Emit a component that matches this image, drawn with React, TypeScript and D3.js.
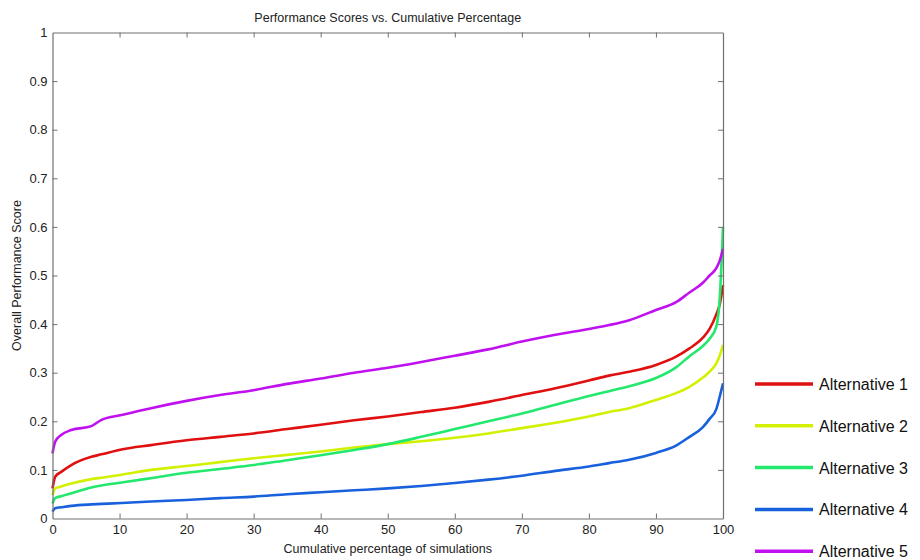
import React, { useEffect, useRef } from 'react';
import * as d3 from 'd3';

// cumulative percentage of simulations (x positions shared by every series)
const percentages = [0, 0.4, 1.3, 2.8, 5.8, 7.3, 10.3, 14.7, 20, 25, 30, 35, 40, 45, 50, 55, 60, 65, 70, 75, 80, 83, 86, 90, 93, 95, 97, 98, 99, 99.5, 100];

const alternative1 = [0.062, 0.086, 0.096, 0.11, 0.127, 0.132, 0.142, 0.151, 0.161, 0.168, 0.175, 0.184, 0.193, 0.202, 0.21, 0.219, 0.228, 0.24, 0.254, 0.268, 0.284, 0.294, 0.302, 0.316, 0.333, 0.35, 0.372, 0.39, 0.42, 0.44, 0.48];
const alternative2 = [0.048, 0.062, 0.066, 0.072, 0.081, 0.084, 0.09, 0.1, 0.108, 0.116, 0.124, 0.131, 0.138, 0.146, 0.153, 0.159, 0.166, 0.175, 0.186, 0.197, 0.21, 0.219, 0.227, 0.244, 0.258, 0.271, 0.29, 0.302, 0.319, 0.335, 0.357];
const alternative3 = [0.031, 0.042, 0.046, 0.052, 0.064, 0.068, 0.074, 0.083, 0.094, 0.102, 0.11, 0.12, 0.13, 0.141, 0.153, 0.168, 0.184, 0.2, 0.216, 0.234, 0.252, 0.262, 0.272, 0.289, 0.311, 0.334, 0.355, 0.37, 0.395, 0.45, 0.6];
const alternative4 = [0.014, 0.021, 0.023, 0.026, 0.029, 0.03, 0.032, 0.035, 0.038, 0.042, 0.045, 0.05, 0.054, 0.058, 0.062, 0.067, 0.073, 0.08, 0.088, 0.098, 0.107, 0.114, 0.121, 0.135, 0.15, 0.168, 0.188, 0.205, 0.225, 0.25, 0.278];
const alternative5 = [0.134, 0.158, 0.172, 0.182, 0.19, 0.203, 0.213, 0.227, 0.242, 0.254, 0.264, 0.277, 0.288, 0.3, 0.31, 0.322, 0.335, 0.348, 0.364, 0.378, 0.39, 0.398, 0.408, 0.429, 0.445, 0.465, 0.485, 0.5, 0.515, 0.53, 0.555];

const seriesNames = ['Alternative 1', 'Alternative 2', 'Alternative 3', 'Alternative 4', 'Alternative 5'];
const seriesColors = ['#e01010', '#d2f000', '#22e86e', '#1860dc', '#c010f0'];
const xTicks = [0, 10, 20, 30, 40, 50, 60, 70, 80, 90, 100];
const yTicks = [0, 0.1, 0.2, 0.3, 0.4, 0.5, 0.6, 0.7, 0.8, 0.9, 1];

const App = () => {
  const svgRef = useRef<SVGSVGElement>(null);

  useEffect(() => {
    const svg = d3.select(svgRef.current);
    svg.selectAll('*').remove();

    const margin = { top: 32.5, left: 52.5 };
    const width = 670.5;
    const height = 486;
    const font = 'Arial, "Liberation Sans", sans-serif';

    const x = d3.scaleLinear().domain([0, 100]).range([0, width]);
    const y = d3.scaleLinear().domain([0, 1]).range([height, 0]);

    const g = svg.append('g').attr('transform', `translate(${margin.left},${margin.top})`);

    // series lines
    const allSeries = [alternative1, alternative2, alternative3, alternative4, alternative5];
    const line = d3
      .line<number>()
      .x((_, i) => x(percentages[i]))
      .y((d) => y(d))
      .curve(d3.curveMonotoneX);

    allSeries.forEach((vals, i) => {
      g.append('path')
        .datum(vals)
        .attr('d', line)
        .attr('fill', 'none')
        .attr('stroke', seriesColors[i])
        .attr('stroke-width', 2.6)
        .attr('stroke-linejoin', 'round');
    });

    // axes box with inward ticks (MATLAB style)
    const axisColor = '#707070';
    const tickLen = 5;

    const bottom = g.append('g').attr('transform', `translate(0,${height})`)
      .call(d3.axisBottom(x).tickValues(xTicks).tickSizeInner(-tickLen).tickSizeOuter(0).tickPadding(6));
    const top = g.append('g')
      .call(d3.axisTop(x).tickValues(xTicks).tickSizeInner(-tickLen).tickSizeOuter(0).tickFormat(() => ''));
    const left = g.append('g')
      .call(d3.axisLeft(y).tickValues(yTicks).tickSizeInner(-tickLen).tickSizeOuter(0).tickPadding(5).tickFormat((d) => d3.format('')(+d)));
    const right = g.append('g').attr('transform', `translate(${width},0)`)
      .call(d3.axisRight(y).tickValues(yTicks).tickSizeInner(-tickLen).tickSizeOuter(0).tickFormat(() => ''));

    [bottom, top, left, right].forEach((ax) => {
      ax.select('.domain').attr('stroke', axisColor).attr('stroke-width', 1.2);
      ax.selectAll('.tick line').attr('stroke', axisColor);
      ax.selectAll('.tick text').attr('fill', '#222').attr('font-size', 13).attr('font-family', font);
    });
    // hide the 0 / 100 / 1 ticks that coincide with the box edges
    bottom.selectAll('.tick line').filter((d: any) => d === 0 || d === 100).remove();
    top.selectAll('.tick line').filter((d: any) => d === 0 || d === 100).remove();
    left.selectAll('.tick line').filter((d: any) => d === 0 || d === 1).remove();
    right.selectAll('.tick line').filter((d: any) => d === 0 || d === 1).remove();

    // title and axis labels
    svg.append('text')
      .attr('x', margin.left + width / 2)
      .attr('y', 22)
      .attr('text-anchor', 'middle')
      .attr('font-family', font)
      .attr('font-size', 12.5)
      .attr('fill', '#222')
      .text('Performance Scores vs. Cumulative Percentage');

    svg.append('text')
      .attr('x', margin.left + width / 2)
      .attr('y', 553)
      .attr('text-anchor', 'middle')
      .attr('font-family', font)
      .attr('font-size', 12.5)
      .attr('fill', '#222')
      .text('Cumulative percentage of simulations');

    svg.append('text')
      .attr('transform', `translate(21,${margin.top + height / 2}) rotate(-90)`)
      .attr('text-anchor', 'middle')
      .attr('font-family', font)
      .attr('font-size', 12.5)
      .attr('fill', '#222')
      .text('Overall Performance Score');

    // legend outside the axes
    const legend = svg.append('g').attr('transform', 'translate(755,384)');
    seriesNames.forEach((name, i) => {
      const row = legend.append('g').attr('transform', `translate(0,${i * 41.8})`);
      row.append('line')
        .attr('x1', 0).attr('x2', 58)
        .attr('stroke', seriesColors[i])
        .attr('stroke-width', 3.5);
      row.append('text')
        .attr('x', 64)
        .attr('y', 6)
        .attr('font-family', font)
        .attr('font-size', 16)
        .attr('fill', '#111')
        .text(name);
    });
  }, []);

  return (
    <svg
      ref={svgRef}
      width={920}
      height={560}
      style={{ position: 'absolute', left: 0, top: 0, background: '#fff' }}
    />
  );
};

export default App;
